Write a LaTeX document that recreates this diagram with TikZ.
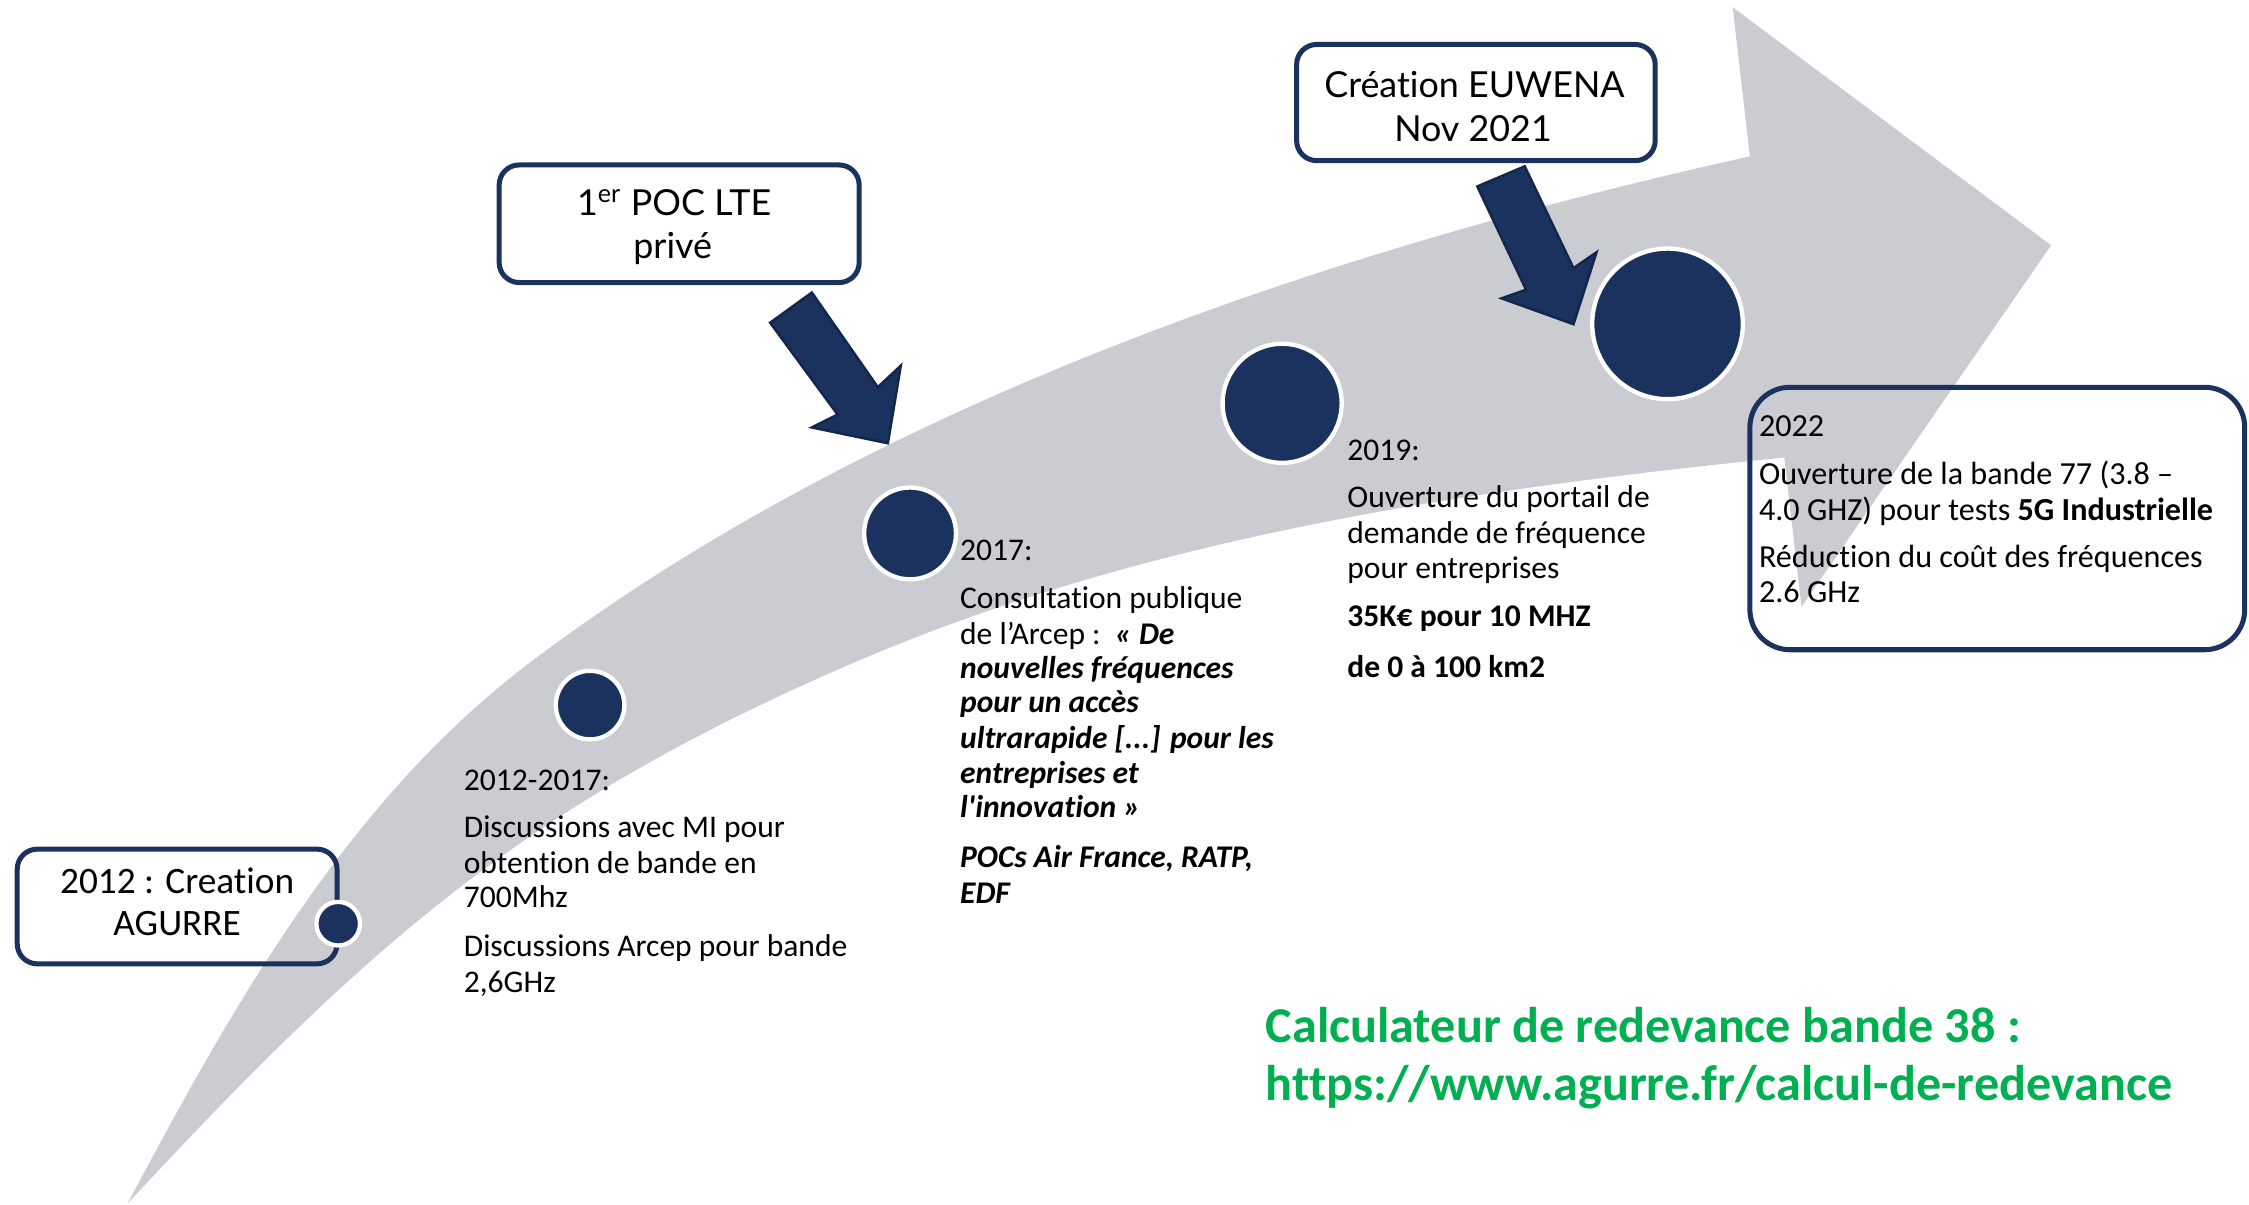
\documentclass[tikz,border=0pt]{standalone}
\usepackage{fontspec}
\setmainfont{Carlito}[Ligatures={TeX,NoCommon}]
\newfontfamily\gillfont{Lato}[Ligatures={TeX,NoCommon}]
\definecolor{navy}{HTML}{1B325F}
\definecolor{navyline}{HTML}{14264C}
\definecolor{arrowgray}{HTML}{CBCCD1}
\definecolor{greentxt}{HTML}{00B050}
\begin{document}
\begin{tikzpicture}[x=0.5pt,y=-0.5pt,
  box/.style={draw=navy, line width=1.75pt, rounded corners=7pt, inner sep=0pt, rectangle},
  bigbox/.style={box, rounded corners=14pt},
  dot/.style={circle, fill=navy, draw=white, line width=1.5pt, inner sep=0pt},
  blockarrow/.style={fill=navy, draw=navyline, line width=0.9pt, line join=miter},
  body/.style={anchor=base west, inner sep=0pt, font=\fontsize{11}{12.25}\selectfont},
  bodyb/.style={body, font=\fontsize{11.2}{12.25}\selectfont},
  boxtxt/.style={anchor=base, inner sep=0pt, font=\gillfont\fontsize{12.5}{15}\selectfont},
  boxtxtc/.style={anchor=base, inner sep=0pt, font=\fontsize{13}{14.5}\selectfont},
  greenline/.style={anchor=base west, inner sep=0pt, text=greentxt, font=\bfseries\fontsize{17.5}{20}\selectfont}
]
\useasboundingbox (0,0) rectangle (1568,840);

% big curved arrow
\fill[arrowgray] (89,839) .. controls (164,698) and (244,556) .. (372,460)
  .. controls (612,280) and (927,174) .. (1220,109)
  -- (1208,5) -- (1430,171) -- (1256,423) -- (1244,319)
  .. controls (1025,341) and (802,374) .. (600,460)
  .. controls (370,558) and (259,656) .. (89,839) -- cycle;

% boxes
\node[box, minimum width=111.5pt, minimum height=40pt] (boxA) at (123.5,632) {};
\node[box, minimum width=125.5pt, minimum height=41pt] (boxB) at (473.5,156) {};
\node[box, minimum width=125pt, minimum height=40.5pt] (boxC) at (1029,71.5) {};
\node[bigbox, minimum width=172.5pt, minimum height=91.5pt] (boxD) at (1392.5,361.5) {};

% dots
\node[dot, minimum size=15.2pt] (c1) at (235.8,644) {};
\node[dot, minimum size=23.9pt] (c2) at (411.4,491.6) {};
\node[dot, minimum size=32pt] (c3) at (634.5,371.9) {};
\node[dot, minimum size=41.5pt] (c4) at (893.9,281.2) {};
\node[dot, minimum size=52.5pt] (c5) at (1162.6,225.8) {};

% block arrows
\filldraw[blockarrow] (537,225) -- (566,204) -- (612,270) -- (628,255) -- (619,309) -- (566,298) -- (584,289) -- cycle;
\filldraw[blockarrow] (1030,130) -- (1063,116) -- (1097,187) -- (1113,176) -- (1097,226) -- (1047,208) -- (1064,202) -- cycle;

% box texts
\node[boxtxtc] (a1) at (123.5,623) {2012 : Creation};
\node[boxtxtc] (a2) at (123.5,652) {AGURRE};
\node[boxtxt] (b1) at (470,150) {1\textsuperscript{er} POC LTE};
\node[boxtxt] (b2) at (469,180) {privé};
\node[boxtxt] (cc1) at (1028,68) {Création EUWENA};
\node[boxtxt] (cc2) at (1027,99) {Nov 2021};

% 2012-2017
\node[body] (p1) at (323,551) {2012-2017:};
\node[body] (p2) at (323,584) {Discussions avec MI pour};
\node[body] (p3) at (323,609) {obtention de bande en};
\node[body] (p4) at (323,633) {700Mhz};
\node[body] (p5) at (323,667) {Discussions Arcep pour bande};
\node[body] (p6) at (323,692) {2,6GHz};

% 2017
\node[body] (q1) at (669,390.5) {2017:};
\node[body] (q2) at (669,424) {Consultation publique};
\node[body] (q3) at (669,449) {de l’Arcep :\ \ \textbf{\textit{« De}}};
\node[body] (q4) at (669,473) {\textbf{\textit{nouvelles fréquences}}};
\node[body] (q5) at (669,497) {\textbf{\textit{pour un accès}}};
\node[body] (q6) at (669,521.5) {\textbf{\textit{ultrarapide [...] pour les}}};
\node[body] (q7) at (669,546) {\textbf{\textit{entreprises et}}};
\node[body] (q8) at (669,570) {\textbf{\textit{l\textquotesingle innovation »}}};
\node[body] (q9) at (669,605) {\textbf{\textit{POCs Air France, RATP,}}};
\node[body] (q10) at (669,630) {\textbf{\textit{EDF}}};

% 2019
\node[body] (r1) at (939,321) {2019:};
\node[body] (r2) at (939,354) {Ouverture du portail de};
\node[body] (r3) at (939,379) {demande de fréquence};
\node[body] (r4) at (939,403) {pour entreprises};
\node[body] (r5) at (939,437) {\textbf{35K€ pour 10 MHZ}};
\node[body] (r6) at (939,472) {\textbf{de 0 à 100 km2}};

% 2022
\node[bodyb] (s1) at (1226,304) {2022};
\node[bodyb] (s2) at (1226,338) {Ouverture de la bande 77 (3.8 –};
\node[bodyb] (s3) at (1226,363) {4.0 GHZ) pour tests \textbf{5G Industrielle}};
\node[bodyb] (s4) at (1226,396) {Réduction du coût des fréquences};
\node[bodyb] (s5) at (1226,420) {2.6 GHz};

% green
\node[greenline] (g1) at (882,727) {Calculateur de redevance bande 38 :};
\node[greenline] (g2) at (882,767) {https://www.agurre.fr/calcul-de-redevance};
\end{tikzpicture}
\end{document}
